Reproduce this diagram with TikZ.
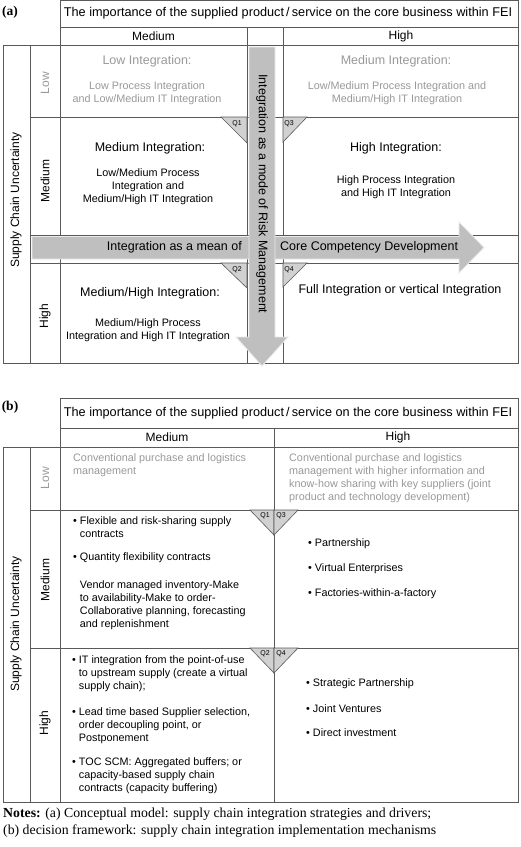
\documentclass[tikz,border=0pt]{standalone}
\usepackage{fontspec}
\setmainfont{Liberation Sans}
\newfontfamily\serifnotes{Liberation Serif}
\newcommand\mybul{\textbullet\ }
\newcommand\myind{\hphantom{\textbullet\ }}
\begin{document}
\begin{tikzpicture}[x=1pt,y=-1pt,
 gridline/.style={draw=black!65, line width=0.9pt},
 hdr/.style={font=\fontsize{12.7}{14}\selectfont, inner sep=0pt},
 colhdr/.style={font=\fontsize{12}{14}\selectfont, inner sep=0pt},
 heading/.style={font=\fontsize{12.5}{15}\selectfont, inner sep=0pt},
 body/.style={font=\fontsize{10.8}{13}\selectfont, inner sep=0pt, align=center},
 bodyl/.style={font=\fontsize{10.8}{13}\selectfont, inner sep=0pt, align=left, anchor=west},
 faint/.style={text=black!40},
 qtri/.style={draw=black!65, line width=0.6pt, fill=black!18},
 qlab/.style={font=\fontsize{7}{8}\selectfont, inner sep=0pt},
 bigarrow/.style={fill=black!25, draw=black!8, line width=0.8pt},
 arrowtxt/.style={font=\fontsize{12.5}{15}\selectfont, inner sep=0pt},
 panel/.style={font=\serifnotes\bfseries\fontsize{13.5}{16}\selectfont, inner sep=0pt},
 notes/.style={font=\serifnotes\fontsize{13.8}{17}\selectfont, inner sep=0pt, align=left, anchor=west}]
\useasboundingbox[fill=white] (0,0) rectangle (520,847);

% ================= (a) =================
\node[panel] (pa) at (10,12.5) {(a)};
\draw[gridline] (60,0.5) rectangle (518,45);
\draw[gridline] (60,27) -- (518,27);
\draw[gridline] (247,27) -- (247,363);
\draw[gridline] (283,27) -- (283,363);
\draw[gridline] (3,45) rectangle (518,363);
\draw[gridline] (30,45) -- (30,363);
\draw[gridline] (60,45) -- (60,363);
\draw[gridline] (30,117) -- (518,117);
\draw[gridline] (30,235) -- (518,235);
\draw[gridline] (30,263) -- (518,263);

\draw[bigarrow] (32,236.5) -- (459,236.5) -- (459,222) -- (484,247.5) -- (459,273) -- (459,259) -- (32,259) -- cycle;
\draw[bigarrow] (249,47) -- (275,47) -- (275,337) -- (288,337) -- (262,366) -- (236,337) -- (249,337) -- cycle;

\node[hdr] (aT) at (288,13.5) {The importance of the supplied product\,/\,service on the core business within FEI};
\node[colhdr] (aMh) at (153.5,36) {Medium};
\node[colhdr] (aHh) at (401,36) {High};

\node[colhdr, rotate=90, faint] (aL) at (45,83) {Low};
\node[colhdr, rotate=90] (aM) at (45,181) {Medium};
\node[colhdr, rotate=90] (aH) at (45,316) {High};
\node[colhdr, rotate=90] (aS) at (16,200) {Supply Chain Uncertainty};

\node[arrowtxt, anchor=east] (hl) at (242,247.5) {Integration as a mean of};
\node[arrowtxt, anchor=west] (hr) at (280,247.5) {Core Competency Development};
\node[arrowtxt, rotate=-90] (vt) at (262,194) {Integration as a mode of Risk Management};

\node[heading, faint] (a11h) at (147,61) {Low Integration:};
\node[body, faint] (a11b) at (147,93.5) {Low Process Integration\\and Low/Medium IT Integration};
\node[heading, faint] (a12h) at (396,61) {Medium Integration:};
\node[body, faint] (a12b) at (397,93.5) {Low/Medium Process Integration and\\Medium/High IT Integration};
\node[heading] (a21h) at (150,148) {Medium Integration:};
\node[body] (a21b) at (148,187) {Low/Medium Process\\Integration and\\Medium/High IT Integration};
\node[heading] (a22h) at (396,148) {High Integration:};
\node[body] (a22b) at (396,187) {High Process Integration\\and High IT Integration};
\node[heading] (a31h) at (150,293) {Medium/High Integration:};
\node[body] (a31b) at (148,330.5) {Medium/High Process\\Integration and High IT Integration};
\node[heading] (a32h) at (400,290) {Full Integration or vertical Integration};

\filldraw[qtri] (221,117) -- (247,117) -- (247,143) -- cycle;
\filldraw[qtri] (221,263) -- (247,263) -- (247,288) -- cycle;
\filldraw[qtri] (283,117) -- (307,117) -- (283,142) -- cycle;
\filldraw[qtri] (283,263) -- (307,263) -- (283,287) -- cycle;
\node[qlab] (q1a) at (237,124) {Q1};
\node[qlab] (q2a) at (237,270) {Q2};
\node[qlab] (q3a) at (289,124) {Q3};
\node[qlab] (q4a) at (289,270) {Q4};

% ================= (b) =================
\node[panel] (pb) at (10,407) {(b)};
\draw[gridline] (60,398) rectangle (518,447);
\draw[gridline] (60,428) -- (518,428);
\draw[gridline] (274,428) -- (274,802);
\draw[gridline] (3,447) rectangle (518,802);
\draw[gridline] (30,447) -- (30,802);
\draw[gridline] (60,447) -- (60,802);
\draw[gridline] (30,510) -- (518,510);
\draw[gridline] (30,648) -- (518,648);

\node[hdr] (bT) at (288,413) {The importance of the supplied product\,/\,service on the core business within FEI};
\node[colhdr] (bMh) at (167,437.5) {Medium};
\node[colhdr] (bHh) at (398,437.5) {High};

\node[colhdr, rotate=90, faint] (bL) at (45,478) {Low};
\node[colhdr, rotate=90] (bM) at (45,580) {Medium};
\node[colhdr, rotate=90] (bH) at (45,723) {High};
\node[colhdr, rotate=90] (bS) at (16,624) {Supply Chain Uncertainty};

\node[bodyl, faint] (b11) at (73,465.5) {Conventional purchase and logistics\\management};
\node[bodyl, faint] (b12) at (289,478.5) {Conventional purchase and logistics\\management with higher information and\\know-how sharing with key suppliers (joint\\product and technology development)};
\node[bodyl] (b21a) at (73,527.5) {\mybul Flexible and risk-sharing supply\\\myind contracts};
\node[bodyl] (b21b) at (73,558) {\mybul Quantity flexibility contracts};
\node[bodyl] (b21c) at (73,605.5) {\myind Vendor managed inventory-Make\\\myind to availability-Make to order-\\\myind Collaborative planning, forecasting\\\myind and replenishment};
\node[bodyl] (b22a) at (308,544) {\mybul Partnership};
\node[bodyl] (b22b) at (308,569) {\mybul Virtual Enterprises};
\node[bodyl] (b22c) at (308,594) {\mybul Factories-within-a-factory};
\node[bodyl] (b31a) at (72,674) {\mybul IT integration from the point-of-use\\\myind to upstream supply (create a virtual\\\myind supply chain);};
\node[bodyl] (b31b) at (72,726) {\mybul Lead time based Supplier selection,\\\myind order decoupling point, or\\\myind Postponement};
\node[bodyl] (b31c) at (72,776) {\mybul TOC SCM: Aggregated buffers; or\\\myind capacity-based supply chain\\\myind contracts (capacity buffering)};
\node[bodyl] (b32a) at (306,684) {\mybul Strategic Partnership};
\node[bodyl] (b32b) at (306,709) {\mybul Joint Ventures};
\node[bodyl] (b32c) at (306,733) {\mybul Direct investment};

\filldraw[qtri] (250,510) -- (274,510) -- (274,535) -- cycle;
\filldraw[qtri] (274,510) -- (298,510) -- (274,535) -- cycle;
\filldraw[qtri] (250,648) -- (274,648) -- (274,673) -- cycle;
\filldraw[qtri] (274,648) -- (298,648) -- (274,673) -- cycle;
\node[qlab] (q1b) at (265,516) {Q1};
\node[qlab] (q3b) at (281,516) {Q3};
\node[qlab] (q2b) at (265,654) {Q2};
\node[qlab] (q4b) at (281,654) {Q4};

% ================= notes =================
\node[notes] (n1) at (3,814.5) {\textbf{Notes:} (a) Conceptual model: supply chain integration strategies and drivers;};
\node[notes] (n2) at (3,831.5) {(b) decision framework: supply chain integration implementation mechanisms};
\end{tikzpicture}
\end{document}
